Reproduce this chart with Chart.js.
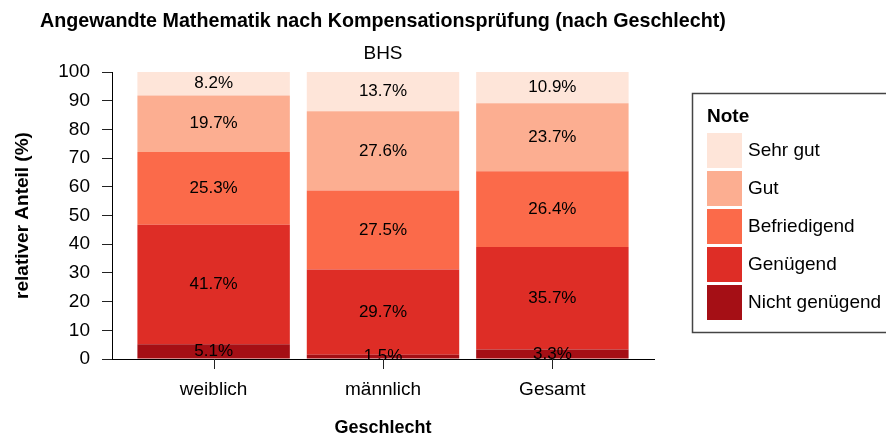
<!DOCTYPE html>
<html>
<head>
<meta charset="utf-8">
<script src="https://cdn.jsdelivr.net/npm/chart.js@4"></script>
<style>
  html, body { margin: 0; padding: 0; background: #fff; }
  #wrap { width: 886px; height: 436px; }
</style>
</head>
<body>
<div id="wrap"><canvas id="chart" width="886" height="436"></canvas></div>
<script>
// Anteile je Note (in %), Reihenfolge: weiblich, männlich, Gesamt
const categories = ['weiblich', 'männlich', 'Gesamt'];
const nichtGenuegend = [5.1, 1.5, 3.3];
const genuegend = [41.7, 29.7, 35.7];
const befriedigend = [25.3, 27.5, 26.4];
const gut = [19.7, 27.6, 23.7];
const sehrGut = [8.2, 13.7, 10.9];

const noteLabels = ['Nicht genügend', 'Genügend', 'Befriedigend', 'Gut', 'Sehr gut'];
const noteColors = ['#A50F15', '#DE2D26', '#FB6A4A', '#FCAE91', '#FEE5D9'];
const seriesValues = [nichtGenuegend, genuegend, befriedigend, gut, sehrGut];

const FONT = "'Liberation Sans', Arial, Helvetica, sans-serif";
Chart.defaults.font.family = FONT;
Chart.defaults.color = '#000';

// Prozentwerte mittig in jedes Segment, abgeschnitten am Plotbereich
const segmentLabels = {
  id: 'segmentLabels',
  afterDatasetsDraw(chart) {
    const { ctx, chartArea } = chart;
    ctx.save();
    ctx.beginPath();
    ctx.rect(chartArea.left, chartArea.top, chartArea.right - chartArea.left, chartArea.bottom - chartArea.top);
    ctx.clip();
    ctx.font = `17px ${FONT}`;
    ctx.fillStyle = '#000';
    ctx.textAlign = 'center';
    ctx.textBaseline = 'middle';
    chart.data.datasets.forEach((ds, di) => {
      chart.getDatasetMeta(di).data.forEach((bar, i) => {
        const y = (bar.y + bar.base) / 2;
        ctx.fillText(ds.data[i].y.toFixed(1) + '%', bar.x, y);
      });
    });
    ctx.restore();
  }
};

// Titel, Untertitel, x-Tickstriche und Legende "Note"
const decorations = {
  id: 'decorations',
  afterDraw(chart) {
    const { ctx, chartArea } = chart;
    const xScale = chart.scales.x;
    ctx.save();

    // Tickstriche unter den Kategorien
    ctx.strokeStyle = '#222';
    ctx.lineWidth = 1;
    categories.forEach((_, i) => {
      const px = Math.round(xScale.getPixelForValue(i + 1)) + 0.5;
      ctx.beginPath();
      ctx.moveTo(px, chartArea.bottom);
      ctx.lineTo(px, chartArea.bottom + 10);
      ctx.stroke();
    });

    ctx.fillStyle = '#000';
    ctx.textBaseline = 'alphabetic';

    ctx.font = `bold 19.7px ${FONT}`;
    ctx.textAlign = 'left';
    ctx.fillText('Angewandte Mathematik nach Kompensationsprüfung (nach Geschlecht)', 40, 27);

    ctx.font = `19px ${FONT}`;
    ctx.textAlign = 'center';
    ctx.fillText('BHS', (chartArea.left + chartArea.right) / 2, 59);

    // Legendenrahmen
    ctx.strokeStyle = '#444';
    ctx.lineWidth = 1.5;
    ctx.strokeRect(692.5, 93.5, 240, 239);

    ctx.textAlign = 'left';
    ctx.font = `bold 19px ${FONT}`;
    ctx.fillText('Note', 707, 122);

    ctx.font = `19px ${FONT}`;
    ctx.textBaseline = 'middle';
    const items = chart.data.datasets.slice().reverse();
    items.forEach((ds, k) => {
      const top = 133 + k * 38;
      ctx.fillStyle = ds.backgroundColor;
      ctx.fillRect(707, top, 35, 35);
      ctx.fillStyle = '#000';
      ctx.fillText(ds.label, 748, top + 18);
    });
    ctx.restore();
  }
};

const datasets = noteLabels.map((label, k) => ({
  label,
  data: seriesValues[k].map((v, i) => ({ x: i + 1, y: v })),
  backgroundColor: noteColors[k],
  borderWidth: 0,
  barPercentage: 0.9,
  categoryPercentage: 1.0
}));

new Chart(document.getElementById('chart'), {
  type: 'bar',
  data: { datasets },
  options: {
    responsive: false,
    animation: false,
    events: [],
    layout: { padding: { top: 72, right: 232, bottom: 0, left: 0 } },
    plugins: {
      legend: { display: false },
      tooltip: { enabled: false }
    },
    scales: {
      x: {
        type: 'linear',
        stacked: true,
        min: 0.4,
        max: 3.6,
        offset: false,
        afterBuildTicks: (scale) => {
          scale.ticks = categories.map((_, i) => ({ value: i + 1 }));
        },
        afterFit: (scale) => { scale.height = 77; },
        ticks: {
          font: { size: 19 },
          padding: 19,
          maxRotation: 0,
          callback: (v) => categories[v - 1] ?? ''
        },
        grid: { offset: false, drawOnChartArea: false, drawTicks: false },
        border: { display: true, color: '#000', width: 1 },
        title: {
          display: true,
          text: 'Geschlecht',
          font: { size: 18, weight: 'bold', lineHeight: 0.85 },
          padding: { top: 0, bottom: 0 }
        }
      },
      y: {
        stacked: true,
        min: 0,
        max: 100,
        afterFit: (scale) => { scale.width = 112; },
        ticks: { stepSize: 10, font: { size: 19 }, padding: 12 },
        grid: { drawOnChartArea: false, drawTicks: true, tickLength: 10, color: '#222', lineWidth: 1 },
        border: { display: true, color: '#000', width: 1 },
        title: {
          display: true,
          text: 'relativer Anteil (%)',
          font: { size: 19, weight: 'bold', lineHeight: 1 },
          padding: { top: 13, bottom: 0 }
        }
      }
    }
  },
  plugins: [segmentLabels, decorations]
});
</script>
</body>
</html>
